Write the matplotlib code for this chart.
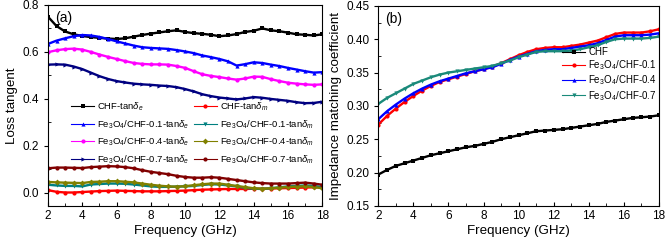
import numpy as np
import matplotlib
matplotlib.use("Agg")
import matplotlib.pyplot as plt
from matplotlib.ticker import MultipleLocator

plt.rcParams["font.family"] = ["Liberation Sans", "DejaVu Sans"]
plt.rcParams["mathtext.fontset"] = "custom"
plt.rcParams["mathtext.rm"] = "Liberation Sans"
plt.rcParams["mathtext.it"] = "Liberation Sans:italic"

# frequency grid (GHz), same for every curve
freq = np.arange(2.0, 18.01, 0.5)

# ---- panel (a): loss tangents ----
chf_e = [0.750, 0.710, 0.687, 0.675, 0.668, 0.663, 0.660, 0.657, 0.655, 0.658, 0.665,
         0.672, 0.678, 0.683, 0.688, 0.692, 0.685, 0.680, 0.677, 0.673, 0.667, 0.670,
         0.676, 0.685, 0.690, 0.700, 0.692, 0.688, 0.682, 0.675, 0.673, 0.670, 0.675]
chf_m = [0.012, 0.005, 0.002, 0.002, 0.004, 0.006, 0.008, 0.009, 0.010, 0.009, 0.008,
         0.007, 0.007, 0.007, 0.008, 0.009, 0.010, 0.012, 0.014, 0.015, 0.016, 0.017,
         0.017, 0.017, 0.018, 0.018, 0.019, 0.020, 0.021, 0.022, 0.023, 0.024, 0.025]
f01_e = [0.634, 0.648, 0.658, 0.667, 0.672, 0.670, 0.664, 0.655, 0.645, 0.636, 0.627,
         0.620, 0.617, 0.615, 0.613, 0.608, 0.602, 0.595, 0.585, 0.578, 0.570, 0.560,
         0.542, 0.548, 0.556, 0.553, 0.546, 0.540, 0.532, 0.525, 0.518, 0.512, 0.514]
f01_m = [0.035, 0.032, 0.030, 0.030, 0.028, 0.036, 0.038, 0.040, 0.040, 0.039, 0.036,
         0.032, 0.028, 0.026, 0.026, 0.027, 0.028, 0.030, 0.034, 0.037, 0.036, 0.032,
         0.028, 0.022, 0.018, 0.017, 0.020, 0.024, 0.028, 0.030, 0.032, 0.030, 0.025]
f04_e = [0.599, 0.607, 0.612, 0.614, 0.610, 0.600, 0.589, 0.579, 0.570, 0.561, 0.553,
         0.549, 0.547, 0.547, 0.546, 0.540, 0.532, 0.518, 0.505, 0.498, 0.493, 0.487,
         0.482, 0.487, 0.495, 0.494, 0.484, 0.476, 0.469, 0.465, 0.462, 0.460, 0.462]
f04_m = [0.047, 0.045, 0.044, 0.043, 0.042, 0.047, 0.048, 0.050, 0.050, 0.048, 0.045,
         0.040, 0.035, 0.031, 0.028, 0.027, 0.029, 0.033, 0.037, 0.040, 0.040, 0.035,
         0.030, 0.025, 0.020, 0.018, 0.020, 0.023, 0.025, 0.027, 0.028, 0.025, 0.020]
f07_e = [0.546, 0.547, 0.546, 0.538, 0.527, 0.512, 0.497, 0.485, 0.476, 0.470, 0.465,
         0.462, 0.460, 0.457, 0.455, 0.450, 0.442, 0.432, 0.420, 0.412, 0.406, 0.402,
         0.398, 0.402, 0.408, 0.405, 0.400, 0.396, 0.392, 0.386, 0.382, 0.383, 0.388]
f07_m = [0.105, 0.108, 0.108, 0.107, 0.106, 0.110, 0.112, 0.114, 0.113, 0.110, 0.105,
         0.097, 0.090, 0.085, 0.080, 0.073, 0.068, 0.065, 0.065, 0.067, 0.065, 0.060,
         0.055, 0.050, 0.045, 0.042, 0.040, 0.040, 0.040, 0.042, 0.044, 0.040, 0.035]

# ---- panel (b): impedance matching coefficient ----
z_chf = [0.197, 0.204, 0.210, 0.214, 0.218, 0.222, 0.226, 0.229, 0.232, 0.235, 0.238,
         0.240, 0.243, 0.246, 0.250, 0.253, 0.256, 0.259, 0.262, 0.263, 0.264, 0.265,
         0.267, 0.269, 0.271, 0.273, 0.276, 0.278, 0.280, 0.282, 0.283, 0.284, 0.286]
z_01 = [0.272, 0.285, 0.296, 0.306, 0.315, 0.323, 0.330, 0.336, 0.340, 0.344, 0.348,
        0.352, 0.355, 0.359, 0.364, 0.370, 0.376, 0.381, 0.385, 0.387, 0.388, 0.388,
        0.390, 0.392, 0.395, 0.398, 0.403, 0.408, 0.410, 0.410, 0.410, 0.412, 0.415]
z_04 = [0.280, 0.292, 0.302, 0.311, 0.319, 0.326, 0.332, 0.337, 0.341, 0.345, 0.349,
        0.352, 0.355, 0.358, 0.363, 0.369, 0.374, 0.378, 0.382, 0.384, 0.385, 0.385,
        0.387, 0.389, 0.391, 0.394, 0.399, 0.404, 0.406, 0.406, 0.406, 0.407, 0.409]
z_07 = [0.303, 0.312, 0.319, 0.326, 0.333, 0.338, 0.343, 0.347, 0.350, 0.352, 0.354,
        0.356, 0.358, 0.360, 0.364, 0.368, 0.373, 0.377, 0.381, 0.382, 0.382, 0.382,
        0.383, 0.385, 0.388, 0.391, 0.396, 0.400, 0.401, 0.401, 0.401, 0.402, 0.404]

FE = "Fe$_3$O$_4$/CHF"
E = "-tan$\\mathit{\\delta}_e$"
M = "-tan$\\mathit{\\delta}_m$"

series_a = [
    (chf_e, "CHF" + E, "black", "s"),
    (f01_e, FE + "-0.1" + E, "#0000ff", "^"),
    (f04_e, FE + "-0.4" + E, "#ff00ff", "o"),
    (f07_e, FE + "-0.7" + E, "#000080", ">"),
    (chf_m, "CHF" + M, "#ff0000", "o"),
    (f01_m, FE + "-0.1" + M, "#008080", "v"),
    (f04_m, FE + "-0.4" + M, "#808000", "D"),
    (f07_m, FE + "-0.7" + M, "#800000", "o"),
]
series_b = [
    (z_chf, "CHF", "black", "s"),
    (z_01, FE + "-0.1", "#ff0000", "o"),
    (z_04, FE + "-0.4", "#0000ff", "^"),
    (z_07, FE + "-0.7", "#1a8a7a", "v"),
]

fig = plt.figure(figsize=(6.66, 2.46), dpi=100)
ax1 = fig.add_axes([0.072, 0.163, 0.412, 0.817])
ax2 = fig.add_axes([0.568, 0.163, 0.4215, 0.813])


def style_axis(ax):
    ax.set_xlim(2, 18)
    ax.xaxis.set_major_locator(MultipleLocator(2))
    ax.xaxis.set_minor_locator(MultipleLocator(1))
    ax.tick_params(axis="x", which="both", direction="in", top=False, labelsize=8.5, pad=3)
    ax.tick_params(axis="x", which="major", length=3)
    ax.tick_params(axis="x", which="minor", length=2)
    ax.tick_params(axis="y", which="major", direction="out", length=3, labelsize=8.5, right=False)
    ax.tick_params(axis="y", which="minor", direction="in", length=2, right=False)
    for sp in ax.spines.values():
        sp.set_linewidth(0.8)
    ax.set_xlabel("Frequency (GHz)", fontsize=9.6, labelpad=2)


for vals, lab, col, mk in series_a:
    ax1.plot(freq, vals, color=col, marker=mk, ms=3, lw=1.7, mew=0, label=lab)
ax1.set_ylim(-0.055, 0.8)
ax1.yaxis.set_minor_locator(MultipleLocator(0.1))
ax1.set_yticks([0.0, 0.2, 0.4, 0.6, 0.8])
ax1.set_ylabel("Loss tangent", fontsize=9.6, labelpad=3)
style_axis(ax1)
ax1.text(0.025, 0.97, "(a)", transform=ax1.transAxes, fontsize=10, va="top", ha="left")
leg1 = ax1.legend(ncol=2, loc="upper left", bbox_to_anchor=(0.085, 0.525), frameon=False,
                  fontsize=6.8, handlelength=2.4, handletextpad=0.3, labelspacing=0.55,
                  columnspacing=0.55, borderaxespad=0, borderpad=0)
for h in leg1.get_lines():
    h.set_linewidth(0.8)

for vals, lab, col, mk in series_b:
    ax2.plot(freq, vals, color=col, marker=mk, ms=3, lw=1.7, mew=0, label=lab)
ax2.set_ylim(0.15, 0.45)
ax2.yaxis.set_major_locator(MultipleLocator(0.05))
ax2.yaxis.set_minor_locator(MultipleLocator(0.025))
ax2.yaxis.set_major_formatter(plt.FormatStrFormatter("%.2f"))
ax2.set_ylabel("Impedance matching coefficient", fontsize=9.6, labelpad=3)
style_axis(ax2)
ax2.text(0.025, 0.97, "(b)", transform=ax2.transAxes, fontsize=10, va="top", ha="left")
leg2 = ax2.legend(loc="upper left", bbox_to_anchor=(0.655, 0.795), frameon=False,
                  fontsize=7, handlelength=2.4, handletextpad=0.3, labelspacing=0.15,
                  borderaxespad=0, borderpad=0)
for h in leg2.get_lines():
    h.set_linewidth(0.8)

fig.savefig("out.png", dpi=100)
